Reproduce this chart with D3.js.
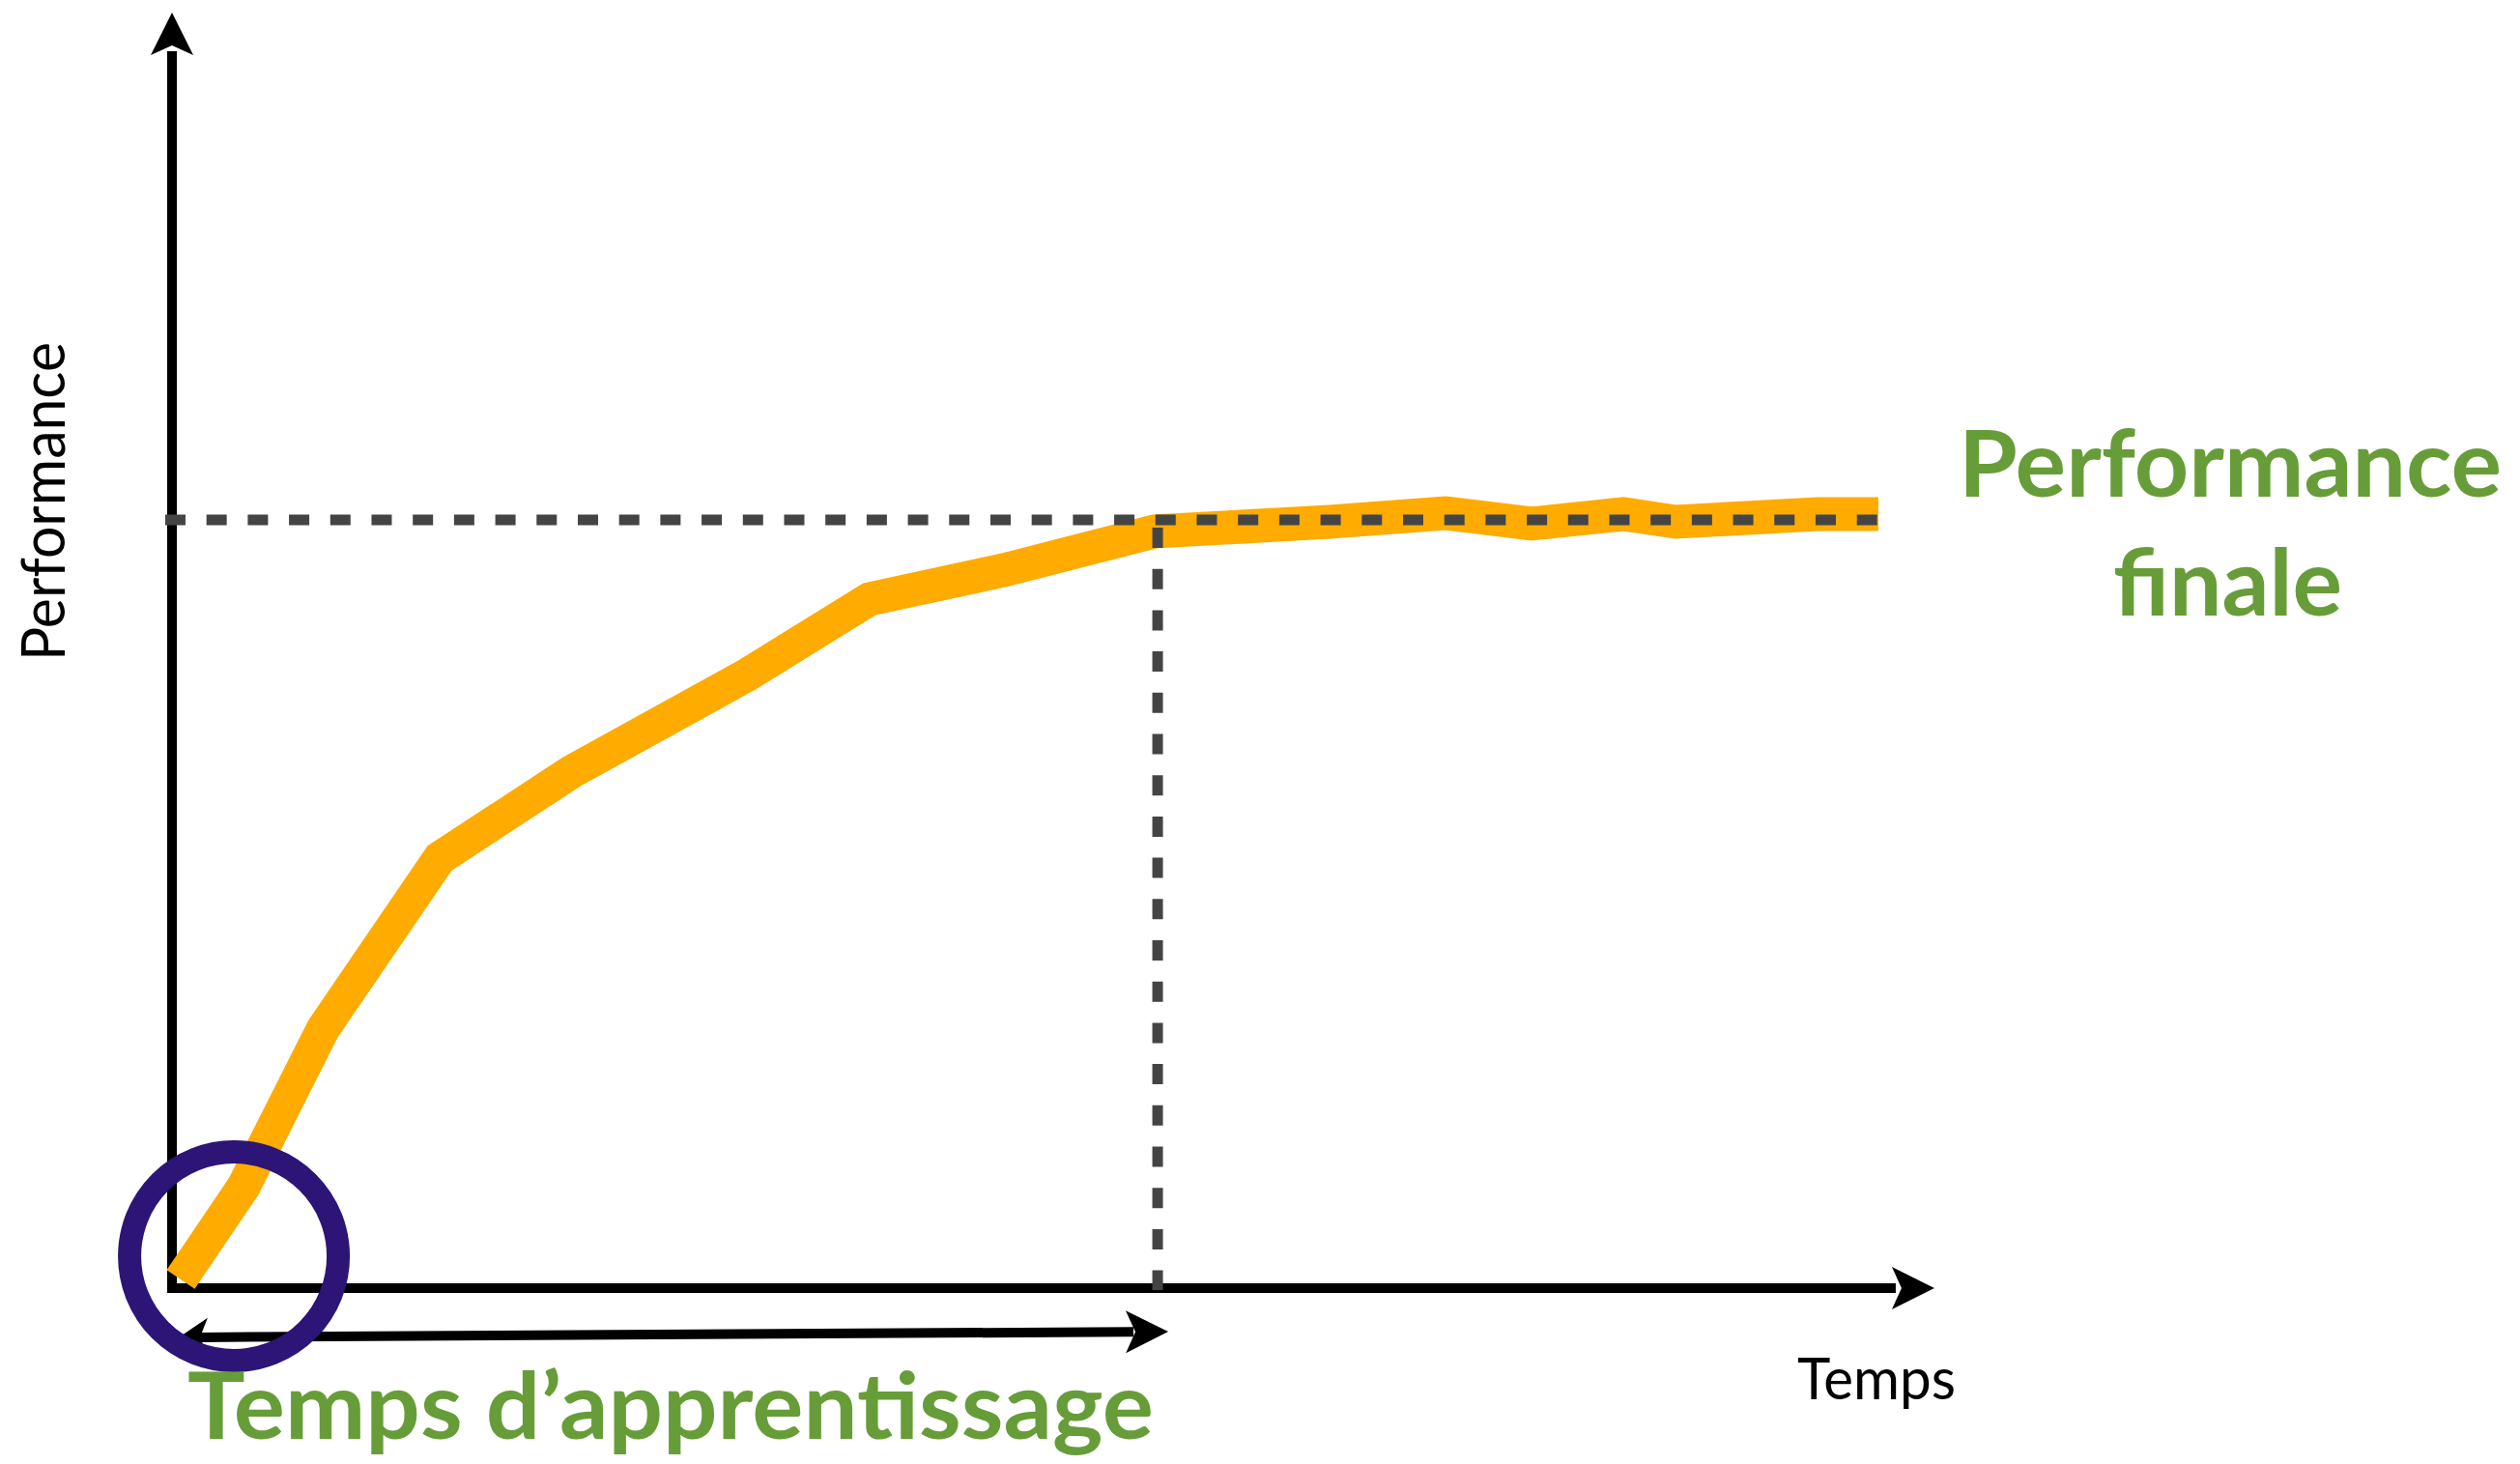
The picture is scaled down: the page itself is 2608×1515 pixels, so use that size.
<!DOCTYPE html>
<html><head><meta charset="utf-8">
<script src="https://cdn.jsdelivr.net/npm/d3@7"></script>
<style>html,body{margin:0;padding:0;background:#fff;overflow:hidden}</style>
</head><body><svg id="c" width="2608" height="1515"></svg>
<script>
// ---- data ----
const timeValues = [0.5, 4.11, 8.67, 15.39, 22.94, 33.11, 40.11, 47.83, 56.5, 66.56, 73.22, 78.17, 83.44, 86.44, 94.61, 98.11];
const performanceValues = [0.75, 8.75, 22.33, 37.08, 44.5, 52.92, 59.42, 61.92, 65.25, 66.08, 66.83, 65.92, 66.75, 66.08, 66.75, 66.75];
const finalPerformance = 66.25;
const learningTime = 56.67;
const xAxisLabel = "Temps";
const yAxisLabel = "Performance";
const finalLabelLines = ["Performance", "finale"];
const learningLabel = "Temps d’apprentissage";

// ---- scales ----
const svg = d3.select("#c");
const x = d3.scaleLinear().domain([0, 100]).range([178, 1978]);
const y = d3.scaleLinear().domain([0, 100]).range([1333, 133]);

function arrowHead(g, tipX, tipY, angle, len, hw, notch, color) {
  const p = [[0,0],[-len,-hw],[-notch,0],[-len,hw]];
  const c = Math.cos(angle), s = Math.sin(angle);
  const pts = p.map(([a,b]) => [tipX + a*c - b*s, tipY + a*s + b*c]);
  g.append("path").attr("d", "M" + pts.map(q => q.join(",")).join("L") + "Z").attr("fill", color);
}

// ---- axes ----
const axes = svg.append("g");
axes.append("line").attr("x1", x(0)).attr("x2", x(0)).attr("y1", y(0) + 5).attr("y2", y(110) + 40)
  .attr("stroke", "#000").attr("stroke-width", 10);
arrowHead(axes, x(0), y(110), -Math.PI/2, 44, 22, 34, "#000");
axes.append("line").attr("x1", x(0) - 5).attr("x2", x(101.33) - 40).attr("y1", y(0)).attr("y2", y(0))
  .attr("stroke", "#000").attr("stroke-width", 10);
arrowHead(axes, x(101.33), y(0), 0, 44, 22, 34, "#000");

// ---- curve ----
const pts = timeValues.map((t, i) => [t, performanceValues[i]]);
svg.append("path").datum(pts)
  .attr("d", d3.line().x(d => x(d[0])).y(d => y(d[1])))
  .attr("fill", "none").attr("stroke", "#ffab00").attr("stroke-width", 35)
  .attr("stroke-linejoin", "miter").attr("stroke-linecap", "butt");

// ---- dashed guides ----
svg.append("line").attr("x1", x(-0.39)).attr("x2", x(98.11)).attr("y1", y(finalPerformance)).attr("y2", y(finalPerformance))
  .attr("stroke", "#444").attr("stroke-width", 11).attr("stroke-dasharray", "21 21.7");
svg.append("line").attr("x1", x(learningTime)).attr("x2", x(learningTime)).attr("y1", y(finalPerformance) + 8).attr("y2", y(0) + 2)
  .attr("stroke", "#444").attr("stroke-width", 11).attr("stroke-dasharray", "21 21.7");

// ---- learning time arrow ----
const ag = svg.append("g");
const ax1 = x(0.39), ay1 = y(-4.25), ax2 = x(57.28), ay2 = y(-3.75);
const ang = Math.atan2(ay2 - ay1, ax2 - ax1);
ag.append("line").attr("x1", ax1 + 20*Math.cos(ang)).attr("y1", ay1 + 20*Math.sin(ang))
  .attr("x2", ax2 - 36*Math.cos(ang)).attr("y2", ay2 - 36*Math.sin(ang))
  .attr("stroke", "#000").attr("stroke-width", 10);
arrowHead(ag, ax2, ay2, ang, 44, 22, 34, "#000");
arrowHead(ag, ax1, ay1, ang + Math.PI, 30, 20, 22, "#000");

// ---- circle ----
svg.append("circle").attr("cx", x(3.56)).attr("cy", y(2.75)).attr("r", 108)
  .attr("fill", "none").attr("stroke", "#2c1576").attr("stroke-width", 24);

// ---- texts ----
const font = "'Lato', 'Open Sans', sans-serif";
svg.append("text").attr("x", 1860).attr("y", 1448).attr("font-family", font).attr("font-size", 60)
  .attr("fill", "#000").attr("textLength", 164).attr("lengthAdjust", "spacingAndGlyphs").text(xAxisLabel);
svg.append("text").attr("transform", "translate(67,684) rotate(-90)").attr("font-family", font).attr("font-size", 62)
  .attr("fill", "#000").attr("textLength", 330).attr("lengthAdjust", "spacingAndGlyphs").text(yAxisLabel);

const green = "#679d38";
svg.append("text").attr("x", 2027).attr("y", 514).attr("font-family", font).attr("font-weight", 700).attr("font-size", 95)
  .attr("fill", green).attr("textLength", 562).attr("lengthAdjust", "spacingAndGlyphs").text(finalLabelLines[0]);
svg.append("text").attr("x", 2187).attr("y", 637).attr("font-family", font).attr("font-weight", 700).attr("font-size", 95)
  .attr("fill", green).attr("textLength", 237).attr("lengthAdjust", "spacingAndGlyphs").text(finalLabelLines[1]);
svg.append("text").attr("x", 194).attr("y", 1489).attr("font-family", font).attr("font-weight", 700).attr("font-size", 95)
  .attr("fill", green).attr("textLength", 1000).attr("lengthAdjust", "spacingAndGlyphs").text(learningLabel);
</script></body></html>
